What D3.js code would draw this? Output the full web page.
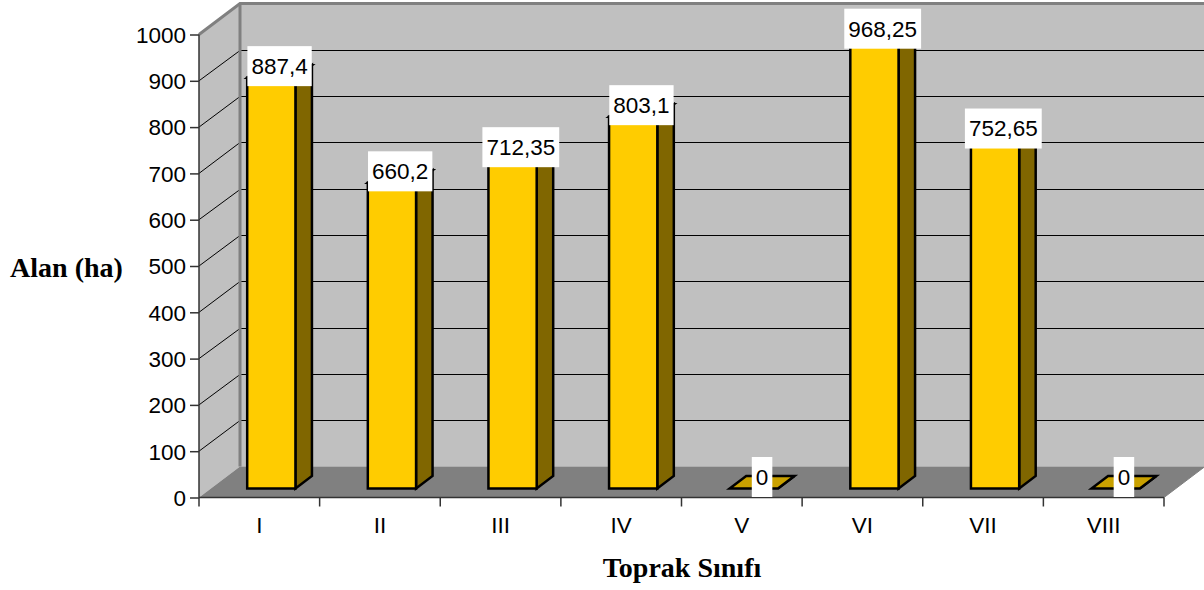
<!DOCTYPE html>
<html lang="en">
<head>
    <meta charset="UTF-8">
    <title>Toprak Sınıfı</title>
    <style>
        html, body { margin: 0; padding: 0; background: #fff; overflow: hidden; }
        svg { display: block; }
        text { font-family: "Liberation Sans", Arial, sans-serif; font-size: 22.5px; fill: #000; }
        .title { font-family: "Liberation Serif", "Times New Roman", serif; font-weight: bold; font-size: 28px; }
        .axis path { display: none; }
        .axis line { stroke: #333; stroke-width: 1.5; }
    </style>
    <script src="https://d3js.org/d3.v7.min.js"></script>
</head>
<body>
<div id="chart"></div>
<script>
    var categories = ["I", "II", "III", "IV", "V", "VI", "VII", "VIII"];
    var areas = [887.4, 660.2, 712.35, 803.1, 0, 968.25, 752.65, 0];
    var areaLabels = ["887,4", "660,2", "712,35", "803,1", "0", "968,25", "752,65", "0"];
    var yTicks = [0, 100, 200, 300, 400, 500, 600, 700, 800, 900, 1000];

    var width = 1204, height = 590;
    var depthX = 41, depthY = 31;

    var x = d3.scaleBand().domain(categories).range([199, 1164]);
    var y = d3.scaleLinear().domain([0, 1000]).range([497.5, 34.5]);

    var svg = d3.select("#chart").append("svg")
        .attr("width", width)
        .attr("height", height);

    function pts(a) { return a.map(function (p) { return p.join(","); }).join(" "); }

    // back wall
    svg.append("rect")
        .attr("x", 199 + depthX).attr("y", y(1000) - depthY)
        .attr("width", width - 199 - depthX + 5).attr("height", y(0) - y(1000))
        .attr("fill", "#c0c0c0");

    // side wall
    svg.append("polygon")
        .attr("points", pts([[199, y(1000)], [199 + depthX, y(1000) - depthY], [199 + depthX, y(0) - depthY], [199, y(0)]]))
        .attr("fill", "#c0c0c0");

    // floor
    svg.append("polygon")
        .attr("points", pts([[199, y(0)], [199 + depthX, y(0) - depthY], [1164 + depthX, y(0) - depthY], [1164, y(0)]]))
        .attr("fill", "#808080");

    // grid
    var grid = svg.append("g");
    yTicks.slice(1, -1).forEach(function (t) {
        var backY = Math.round(y(t) - depthY) + 0.5;
        grid.append("line")
            .attr("x1", 199).attr("y1", y(t))
            .attr("x2", 199 + depthX).attr("y2", backY)
            .attr("stroke", "#000");
        grid.append("line")
            .attr("x1", 199 + depthX).attr("y1", backY)
            .attr("x2", width).attr("y2", backY)
            .attr("stroke", "#000");
    });

    // wall edges
    svg.append("polyline")
        .attr("points", pts([[199, y(1000)], [199 + depthX, y(1000) - depthY], [width, y(1000) - depthY]]))
        .attr("fill", "none").attr("stroke", "#808080").attr("stroke-width", 3);
    svg.append("line")
        .attr("x1", 199 + depthX).attr("y1", y(1000) - depthY)
        .attr("x2", 199 + depthX).attr("y2", y(0) - depthY)
        .attr("stroke", "#808080").attr("stroke-width", 3);
    svg.append("line")
        .attr("x1", 1164).attr("y1", y(0))
        .attr("x2", 1164 + depthX).attr("y2", y(0) - depthY)
        .attr("stroke", "#808080");

    // axes
    var yAxis = svg.append("g")
        .attr("class", "axis")
        .attr("transform", "translate(199,0)")
        .call(d3.axisLeft(y).tickValues(yTicks).tickSize(9).tickPadding(4).tickFormat(d3.format("d")));
    yAxis.selectAll("text").attr("dy", "0.35em");

    var xAxis = svg.append("g")
        .attr("class", "axis")
        .attr("transform", "translate(0," + y(0) + ")")
        .call(d3.axisBottom(x).tickSize(0).tickPadding(20));
    xAxis.selectAll("text").attr("dy", "0.71em");

    // slot boundaries
    var xEdges = categories.map(function (c) { return x(c); }).concat([x.range()[1]]);
    svg.append("g").selectAll("line")
        .data(xEdges)
        .enter().append("line")
        .attr("x1", function (d) { return d; })
        .attr("x2", function (d) { return d; })
        .attr("y1", y(0))
        .attr("y2", y(0) + 9)
        .attr("stroke", "#333")
        .attr("stroke-width", 1.5);

    svg.append("line").attr("x1", 199).attr("x2", 199).attr("y1", y(1000)).attr("y2", y(0))
        .attr("stroke", "#333").attr("stroke-width", 1.5);
    svg.append("line").attr("x1", 199).attr("x2", 1164).attr("y1", y(0)).attr("y2", y(0))
        .attr("stroke", "#333").attr("stroke-width", 1.5);

    // bars
    var barW = x.bandwidth() * 0.4,
        barX = x.bandwidth() * 0.3 + 12,
        barLift = 9,
        sideX = 16.5,
        sideY = 12.5;

    var bars = svg.append("g").selectAll("g")
        .data(areas)
        .enter().append("g")
        .attr("stroke", "#000")
        .attr("stroke-width", 2.5)
        .attr("stroke-linejoin", "miter");

    function barLeft(d, i) { return x(categories[i]) + barX; }
    function barTop(d) { return y(d) - barLift; }
    var base = y(0) - barLift;

    bars.append("polygon")
        .attr("fill", "#806600")
        .attr("points", function (d, i) {
            var r = barLeft(d, i) + barW;
            return pts([[r, barTop(d)], [r + sideX, barTop(d) - sideY], [r + sideX, base - sideY], [r, base]]);
        });
    bars.append("polygon")
        .attr("fill", "#c9a100")
        .attr("points", function (d, i) {
            var l = barLeft(d, i);
            return pts([[l, barTop(d)], [l + barW, barTop(d)], [l + barW + sideX, barTop(d) - sideY], [l + sideX, barTop(d) - sideY]]);
        });
    bars.append("rect")
        .attr("fill", "#ffcc00")
        .attr("x", barLeft)
        .attr("y", barTop)
        .attr("width", barW)
        .attr("height", function (d) { return base - barTop(d); });

    // value labels
    var labels = svg.append("g").selectAll("g")
        .data(areas)
        .enter().append("g")
        .attr("transform", function (d, i) {
            return "translate(" + (barLeft(d, i) + barW / 2 + sideX / 2) + "," + (barTop(d) - 11.5) + ")";
        });
    labels.append("rect").attr("fill", "#fff");
    labels.append("text")
        .attr("text-anchor", "middle")
        .attr("dy", "0.35em")
        .text(function (d, i) { return areaLabels[i]; });
    labels.each(function () {
        var g = d3.select(this);
        var w = g.select("text").node().getComputedTextLength() + 8;
        g.select("rect").attr("x", -w / 2).attr("y", -20).attr("width", w).attr("height", 40);
    });

    // titles
    svg.append("text").attr("class", "title")
        .attr("x", 66.5).attr("y", 267.5)
        .attr("dy", "0.35em")
        .attr("text-anchor", "middle")
        .text("Alan (ha)");
    svg.append("text").attr("class", "title")
        .attr("x", 682).attr("y", 567)
        .attr("dy", "0.35em")
        .attr("text-anchor", "middle")
        .text("Toprak Sınıfı");
</script>
</body>
</html>
